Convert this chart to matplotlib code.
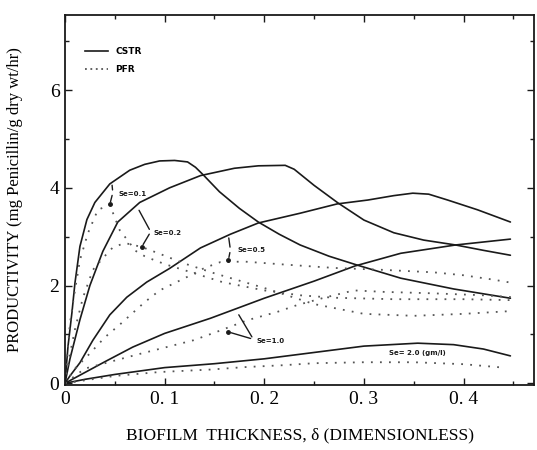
import matplotlib
matplotlib.use("Agg")
import matplotlib.pyplot as plt
from matplotlib.ticker import MultipleLocator, FixedLocator

# ---- data ----
cstr_01_x = [0, 0.003, 0.007, 0.01, 0.015, 0.022, 0.03, 0.045, 0.065, 0.08, 0.095, 0.11, 0.123,
             0.131, 0.139, 0.155, 0.175, 0.194, 0.215, 0.236, 0.265, 0.293, 0.337, 0.39, 0.447]
cstr_01_y = [0, 0.75, 1.45, 2.05, 2.8, 3.35, 3.7, 4.08, 4.36, 4.48, 4.55, 4.56, 4.53,
             4.42, 4.26, 3.92, 3.58, 3.30, 3.05, 2.83, 2.6, 2.42, 2.15, 1.93, 1.74]

cstr_02_x = [0, 0.005, 0.01, 0.015, 0.025, 0.038, 0.053, 0.075, 0.105, 0.136, 0.17, 0.194, 0.221,
             0.23, 0.25, 0.274, 0.3, 0.33, 0.36, 0.392, 0.42, 0.447]
cstr_02_y = [0, 0.5, 0.9, 1.3, 2.0, 2.7, 3.3, 3.7, 4.0, 4.25, 4.4, 4.45, 4.46,
             4.38, 4.05, 3.69, 3.34, 3.08, 2.93, 2.83, 2.72, 2.62]

cstr_05_x = [0, 0.005, 0.015, 0.028, 0.045, 0.062, 0.082, 0.105, 0.136, 0.166, 0.194, 0.236,
             0.273, 0.304, 0.33, 0.349, 0.365, 0.384, 0.414, 0.447]
cstr_05_y = [0, 0.15, 0.42, 0.88, 1.4, 1.76, 2.07, 2.35, 2.77, 3.05, 3.28, 3.48,
             3.67, 3.75, 3.84, 3.89, 3.87, 3.75, 3.55, 3.30]

cstr_10_x = [0, 0.02, 0.04, 0.068, 0.1, 0.146, 0.175, 0.2, 0.25, 0.291, 0.337, 0.392, 0.447]
cstr_10_y = [0, 0.22, 0.44, 0.74, 1.02, 1.33, 1.55, 1.74, 2.09, 2.4, 2.66, 2.83, 2.95]

cstr_20_x = [0, 0.02, 0.05, 0.1, 0.15, 0.2, 0.25, 0.3, 0.354, 0.39, 0.42, 0.447]
cstr_20_y = [0, 0.08, 0.18, 0.32, 0.4, 0.5, 0.63, 0.76, 0.82, 0.79, 0.7, 0.56]

pfr_01_x = [0, 0.005, 0.01, 0.015, 0.023, 0.033, 0.045, 0.055, 0.065, 0.07, 0.08, 0.092, 0.103,
            0.13, 0.158, 0.2, 0.236, 0.27, 0.33, 0.4, 0.45]
pfr_01_y = [0, 1.23, 1.9, 2.52, 3.07, 3.55, 3.65, 3.13, 2.87, 2.72, 2.6, 2.5, 2.42,
            2.25, 2.07, 1.9, 1.8, 1.75, 1.72, 1.72, 1.7]

pfr_02_x = [0, 0.005, 0.01, 0.018, 0.028, 0.038, 0.048, 0.06, 0.077, 0.095, 0.12, 0.15, 0.2,
            0.25, 0.3, 0.35, 0.4, 0.45]
pfr_02_y = [0, 0.6, 1.1, 1.75, 2.32, 2.56, 2.78, 2.87, 2.79, 2.65, 2.45, 2.25, 1.95,
            1.62, 1.42, 1.38, 1.42, 1.48]

pfr_05_x = [0, 0.01, 0.025, 0.04, 0.055, 0.08, 0.095, 0.11, 0.125, 0.14, 0.156, 0.18, 0.22,
            0.27, 0.32, 0.37, 0.4, 0.43, 0.45]
pfr_05_y = [0, 0.3, 0.61, 0.94, 1.2, 1.66, 1.9, 2.05, 2.2, 2.36, 2.48, 2.49, 2.43,
            2.36, 2.32, 2.27, 2.21, 2.12, 2.05]

pfr_10_x = [0, 0.02, 0.062, 0.075, 0.129, 0.152, 0.183, 0.213, 0.233, 0.26, 0.29, 0.32,
            0.37, 0.42, 0.45]
pfr_10_y = [0, 0.3, 0.53, 0.6, 0.88, 1.05, 1.29, 1.46, 1.6, 1.75, 1.9, 1.87,
            1.84, 1.8, 1.76]

pfr_20_x = [0, 0.05, 0.095, 0.146, 0.18, 0.22, 0.25, 0.3, 0.35, 0.4, 0.44]
pfr_20_y = [0, 0.15, 0.23, 0.28, 0.33, 0.37, 0.41, 0.43, 0.43, 0.39, 0.32]

cstr_series = [(cstr_01_x, cstr_01_y), (cstr_02_x, cstr_02_y), (cstr_05_x, cstr_05_y),
               (cstr_10_x, cstr_10_y), (cstr_20_x, cstr_20_y)]
pfr_series = [(pfr_01_x, pfr_01_y), (pfr_02_x, pfr_02_y), (pfr_05_x, pfr_05_y),
              (pfr_10_x, pfr_10_y), (pfr_20_x, pfr_20_y)]

x_ticks = [0, 0.1, 0.2, 0.3, 0.4]
x_tick_labels = ["0", "0. 1", "0. 2", "0. 3", "0. 4"]
y_ticks = [0, 2, 4, 6]
y_tick_labels = ["0", "2", "4", "6"]

# curve labels: text, text anchor, pointer ends (CSTR point, PFR point)
se_labels = ["Se=0.1", "Se=0.2", "Se=0.5", "Se=1.0"]
se_text_xy = [(0.051, 3.88), (0.086, 3.07), (0.170, 2.73), (0.189, 0.86)]
se_joint_xy = [(0.048, 3.9), (0.086, 3.1), (0.166, 2.73), (0.189, 0.9)]
se_cstr_xy = [(0.047, 4.11), (0.073, 3.59), (0.164, 3.03), (0.173, 1.45)]
se_pfr_xy = [(0.045, 3.66), (0.077, 2.79), (0.164, 2.52), (0.164, 1.05)]

INK = "#1a1a1a"

fig = plt.figure(figsize=(5.37, 4.5), dpi=100)
ax = fig.add_axes([0.121, 0.144, 0.874, 0.823])

for xs, ys in cstr_series:
    ax.plot(xs, ys, color=INK, lw=1.2, solid_capstyle="round")
for xs, ys in pfr_series:
    ax.plot(xs, ys, color="#555555", lw=1.3, linestyle=(0, (1, 4)))

# legend drawn as in the original (short line + text, top left)
leg_c, = ax.plot([], [], color=INK, lw=1.2)
leg_p, = ax.plot([], [], color="#555555", lw=1.3, linestyle=(0, (1, 2)))
leg = ax.legend([leg_c, leg_p], ["CSTR", "PFR"], loc="upper left", frameon=False,
                bbox_to_anchor=(0.025, 0.935), handlelength=2.6, handletextpad=0.8,
                labelspacing=1.0, prop={"size": 6.5, "weight": "bold", "family": "DejaVu Sans"})

# pointer labels
for lab, txy, jxy, cxy, pxy in zip(se_labels, se_text_xy, se_joint_xy, se_cstr_xy, se_pfr_xy):
    ax.annotate("", xy=cxy, xytext=jxy, arrowprops=dict(arrowstyle="-", color=INK, lw=1.0))
    ax.annotate("", xy=pxy, xytext=jxy, arrowprops=dict(arrowstyle="-", color=INK, lw=1.0))
    ax.plot(*pxy, marker="o", ms=2.5, color=INK)
    ax.text(txy[0] + 0.003, txy[1], lab, fontsize=5, fontweight="bold", color=INK,
            va="center", ha="left")
ax.text(0.325, 0.61, "Se= 2.0 (gm/l)", fontsize=5, fontweight="bold", color=INK,
        va="center", ha="left")

ax.set_xlim(0, 0.471)
ax.set_ylim(-0.04, 7.54)
ax.xaxis.set_major_locator(FixedLocator(x_ticks))
ax.set_xticklabels(x_tick_labels)
ax.xaxis.set_minor_locator(MultipleLocator(0.05))
ax.yaxis.set_major_locator(FixedLocator(y_ticks))
ax.set_yticklabels(y_tick_labels)
ax.yaxis.set_minor_locator(MultipleLocator(1))
ax.tick_params(which="both", direction="in", top=True, right=True, color=INK, width=1.0)
ax.tick_params(which="major", length=5, labelsize=14, pad=4)
ax.tick_params(which="minor", length=3)
for lbl in ax.get_xticklabels() + ax.get_yticklabels():
    lbl.set_family("Liberation Serif")
for sp in ax.spines.values():
    sp.set_color(INK)
    sp.set_linewidth(1.3)

ax.set_xlabel("BIOFILM  THICKNESS, \u03b4 (DIMENSIONLESS)", fontsize=12.5,
              family="Liberation Serif", labelpad=14)
ax.set_ylabel("PRODUCTIVITY (mg Penicillin/g dry wt/hr)", fontsize=12,
              family="Liberation Serif", labelpad=4)
ax.yaxis.set_label_coords(-0.09, 0.5)

fig.savefig("out.png", dpi=100)
